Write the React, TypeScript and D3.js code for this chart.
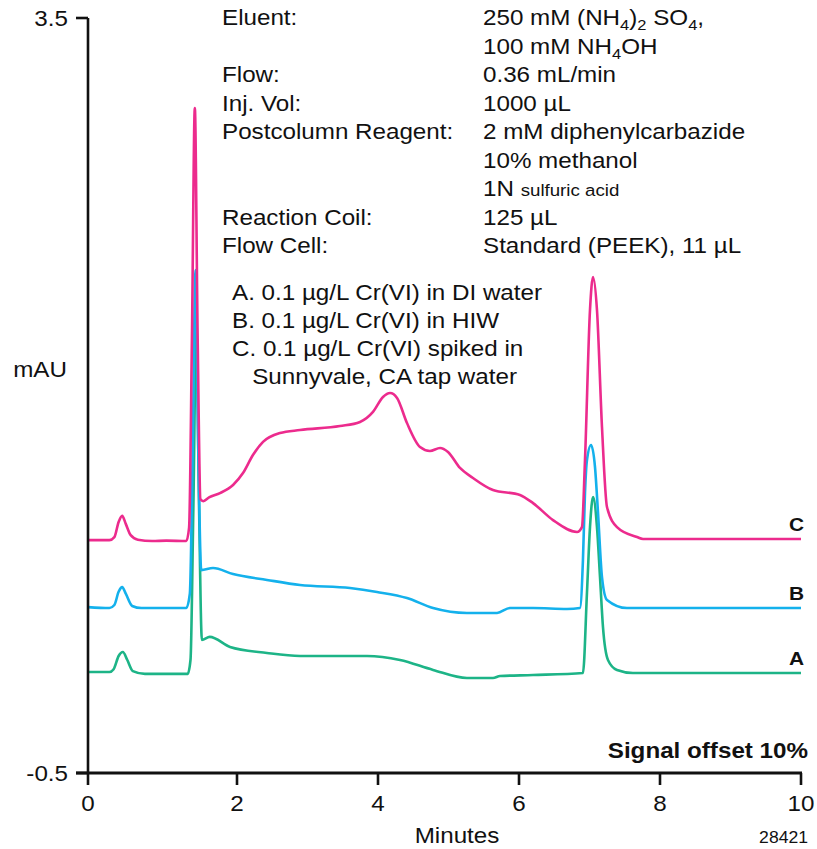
import React from "react";
import * as d3 from "d3";

type Pt = [number, number];

// Retention time axis (minutes) and response axis (mAU)
const minuteTicks = [0, 2, 4, 6, 8, 10];
const mauTicks = [3.5, -0.5];

// A. 0.1 µg/L Cr(VI) in DI water
const traceA: Pt[] = [
  [0, 0.035], [0.287, 0.035], [0.344, 0.05], [0.411, 0.12], [0.468, 0.141], [0.526, 0.1],
  [0.602, 0.04], [0.765, 0.025], [1.338, 0.025], [1.376, 0.1], [1.414, 0.9], [1.453, 1.85],
  [1.491, 0.9], [1.529, 0.205], [1.634, 0.221], [1.906, 0.168], [2.425, 0.136],
  [2.894, 0.12], [3.844, 0.12], [4.312, 0.099], [4.781, 0.046], [5.262, 0.003],
  [5.631, 0.003], [5.731, 0.014], [6.199, 0.019], [6.907, 0.03], [6.964, 0.454],
  [7.007, 0.803], [7.05, 0.962], [7.106, 0.803], [7.149, 0.538], [7.191, 0.274],
  [7.262, 0.099], [7.39, 0.046], [7.616, 0.03], [10, 0.03],
];

// B. 0.1 µg/L Cr(VI) in HIW
const traceB: Pt[] = [
  [0, 0.379], [0.287, 0.374], [0.354, 0.39], [0.411, 0.46], [0.459, 0.485], [0.507, 0.45],
  [0.593, 0.385], [0.717, 0.374], [0.956, 0.374], [1.319, 0.374], [1.367, 0.45], [1.405, 1.2],
  [1.443, 2.165], [1.481, 1.2], [1.52, 0.575], [1.678, 0.586], [1.947, 0.554],
  [2.425, 0.523], [2.894, 0.496], [3.603, 0.48], [3.986, 0.459], [4.411, 0.427],
  [4.781, 0.374], [5.262, 0.348], [5.688, 0.348], [5.872, 0.374], [6.199, 0.374],
  [6.681, 0.369], [6.865, 0.374], [6.907, 0.628], [6.936, 0.983], [6.964, 1.158],
  [7.022, 1.238], [7.078, 1.121], [7.121, 0.877], [7.177, 0.538], [7.248, 0.417],
  [7.532, 0.374], [10, 0.374],
];

// C. 0.1 µg/L Cr(VI) spiked in Sunnyvale, CA tap water
const traceC: Pt[] = [
  [0, 0.734], [0.287, 0.734], [0.354, 0.75], [0.411, 0.83], [0.459, 0.862], [0.507, 0.82],
  [0.573, 0.76], [0.669, 0.736], [0.86, 0.729], [1.051, 0.731], [1.319, 0.729], [1.357, 0.8],
  [1.395, 1.8], [1.434, 3.023], [1.472, 1.8], [1.51, 0.95], [1.548, 0.94], [1.625, 0.96],
  [1.772, 0.983], [1.947, 1.026], [2.085, 1.089], [2.226, 1.185], [2.369, 1.254],
  [2.61, 1.301], [2.894, 1.317], [3.461, 1.338], [3.745, 1.36], [3.929, 1.413],
  [4.071, 1.492], [4.171, 1.513], [4.27, 1.487], [4.411, 1.354], [4.596, 1.227],
  [4.737, 1.206], [4.88, 1.222], [4.993, 1.201], [5.163, 1.116], [5.347, 1.063],
  [5.631, 0.999], [6.014, 0.973], [6.199, 0.93], [6.482, 0.84], [6.823, 0.777],
  [6.893, 0.803], [6.936, 1.158], [7.007, 1.953], [7.05, 2.128], [7.106, 1.953],
  [7.177, 1.333], [7.248, 0.909], [7.39, 0.803], [7.674, 0.75], [7.759, 0.74], [10, 0.74],
];

const traceNames = ["A", "B", "C"];
const traceColors = ["#1db487", "#14b1ec", "#ec2b8d"];
const traces = [traceA, traceB, traceC];

const legendLines = [
  "A. 0.1 µg/L Cr(VI) in DI water",
  "B. 0.1 µg/L Cr(VI) in HIW",
  "C. 0.1 µg/L Cr(VI) spiked in",
  "   Sunnyvale, CA tap water",
];

const conditionLabels = [
  "Eluent:", "", "Flow:", "Inj. Vol:", "Postcolumn Reagent:", "", "", "Reaction Coil:", "Flow Cell:",
];

const W = 817;
const H = 849;
const FONT = "'Liberation Sans', Arial, Helvetica, sans-serif";
const FS = 22;
const SX = 1.1;
const SUB = 15;

function T({
  x, y, children, size = FS, anchor = "start", weight = "normal",
}: {
  x: number; y: number; children: React.ReactNode; size?: number; anchor?: string; weight?: string;
}) {
  return (
    <text
      transform={`translate(${x},${y}) scale(${SX},1)`}
      fontFamily={FONT}
      fontSize={size}
      fontWeight={weight}
      textAnchor={anchor}
      fill="#111"
      style={{ whiteSpace: "pre" }}
    >
      {children}
    </text>
  );
}

export default function App() {
  // the first two minutes span slightly more width than the rest of the axis
  const x = d3.scaleLinear().domain([0, 2, 10]).range([88, 237, 801]);
  const y = d3.scaleLinear().domain([-0.5, 3.5]).range([773, 18]);
  const line = d3
    .line<Pt>()
    .x((d) => x(d[0]))
    .y((d) => y(d[1]))
    .curve(d3.curveMonotoneX);

  const rowY = (i: number) => 25 + i * 28.5;
  const labelX = 222;
  const valueX = 483;

  return (
    <svg
      width={W}
      height={H}
      style={{ position: "absolute", left: 0, top: 0, display: "block", background: "#fff" }}
    >
      {/* traces, A drawn first so C sits on top */}
      {traces.map((t, i) => (
        <path
          key={traceNames[i]}
          d={line(t) ?? ""}
          fill="none"
          stroke={traceColors[i]}
          strokeWidth={2.6}
          strokeLinejoin="round"
        />
      ))}

      {/* trace labels at right end */}
      {traces.map((t, i) => (
        <T key={"lab" + i} x={804} y={y(t[t.length - 1][1]) - 8} anchor="end" weight="bold" size={19}>
          {traceNames[i]}
        </T>
      ))}

      {/* axes */}
      <line x1={x(0)} x2={x(0)} y1={y(3.5)} y2={y(-0.5)} stroke="#111" strokeWidth={2.6} />
      <line x1={76} x2={x(10) + 1} y1={y(-0.5)} y2={y(-0.5)} stroke="#111" strokeWidth={3} />
      {mauTicks.map((v) => (
        <g key={"yt" + v}>
          <line x1={76} x2={x(0)} y1={y(v)} y2={y(v)} stroke="#111" strokeWidth={2.6} />
          <T x={68} y={y(v) + 8} anchor="end">{String(v)}</T>
        </g>
      ))}
      {minuteTicks.map((m) => (
        <g key={"xt" + m}>
          <line x1={x(m)} x2={x(m)} y1={y(-0.5)} y2={y(-0.5) + 12} stroke="#111" strokeWidth={2.6} />
          <T x={x(m)} y={811} anchor="middle">{String(m)}</T>
        </g>
      ))}
      <T x={40} y={377} anchor="middle">mAU</T>
      <T x={457} y={843} anchor="middle">Minutes</T>
      <T x={808} y={843} anchor="end" size={16}>28421</T>
      <T x={808} y={758} anchor="end" weight="bold">Signal offset 10%</T>

      {/* run conditions */}
      {conditionLabels.map((l, i) =>
        l ? <T key={"cl" + i} x={labelX} y={rowY(i)}>{l}</T> : null
      )}
      <T x={valueX} y={rowY(0)}>
        <tspan>250 mM (NH</tspan>
        <tspan dy={5} fontSize={SUB}>4</tspan>
        <tspan dy={-5}>)</tspan>
        <tspan dy={5} fontSize={SUB}>2</tspan>
        <tspan dy={-5}> SO</tspan>
        <tspan dy={5} fontSize={SUB}>4</tspan>
        <tspan dy={-5}>,</tspan>
      </T>
      <T x={valueX} y={rowY(1)}>
        <tspan>100 mM NH</tspan>
        <tspan dy={5} fontSize={SUB}>4</tspan>
        <tspan dy={-5}>OH</tspan>
      </T>
      <T x={valueX} y={rowY(2)}>0.36 mL/min</T>
      <T x={valueX} y={rowY(3)}>1000 µL</T>
      <T x={valueX} y={rowY(4)}>2 mM diphenylcarbazide</T>
      <T x={valueX} y={rowY(5)}>10% methanol</T>
      <T x={valueX} y={rowY(6)}>
        <tspan>1N </tspan>
        <tspan fontSize={17}>sulfuric acid</tspan>
      </T>
      <T x={valueX} y={rowY(7)}>125 µL</T>
      <T x={valueX} y={rowY(8)}>Standard (PEEK), 11 µL</T>

      {/* sample legend */}
      {legendLines.map((l, i) => (
        <T key={"lg" + i} x={232} y={300 + i * 28}>{l}</T>
      ))}
    </svg>
  );
}
